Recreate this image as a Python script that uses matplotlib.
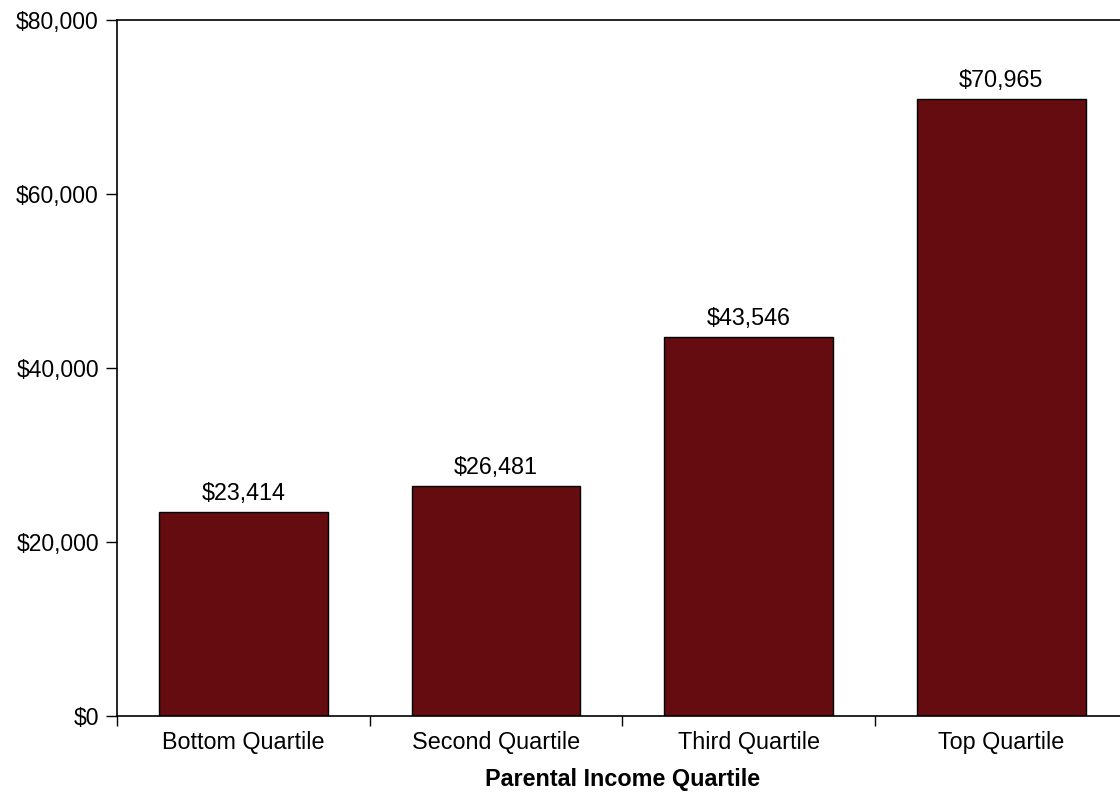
import matplotlib
matplotlib.use("Agg")
import matplotlib.pyplot as plt
from matplotlib.ticker import FuncFormatter, FixedLocator

plt.rcParams['font.family'] = ['Liberation Sans', 'DejaVu Sans']

categories = ["Bottom Quartile", "Second Quartile", "Third Quartile", "Top Quartile"]
values = [23414, 26481, 43546, 70965]
y_ticks = [0, 20000, 40000, 60000, 80000]
x_label = "Parental Income Quartile"
bar_color = "#640C10"

fig = plt.figure(figsize=(11.2, 7.93), dpi=100)
ax = fig.add_axes([117/1120, (793-716)/793, 1010.5/1120, 696/793])

x = list(range(len(categories)))
bars = ax.bar(x, values, width=0.668, color=bar_color, edgecolor="black", linewidth=1.0)
for xi, v in zip(x, values):
    ax.annotate(f"${v:,}", (xi, v), xytext=(0, 5), textcoords="offset points",
                ha="center", va="bottom", fontsize=16.8)

ax.set_xlim(-0.5, len(categories) - 0.5)
ax.set_ylim(0, 80000)
ax.set_yticks(y_ticks)
ax.yaxis.set_major_formatter(FuncFormatter(lambda v, p: f"${int(v):,}"))
ax.set_xticks(x)
ax.set_xticklabels(categories)
ax.xaxis.set_minor_locator(FixedLocator([i - 0.5 for i in range(len(categories) + 1)]))
ax.tick_params(axis="x", which="major", length=0, labelsize=16.8, pad=11)
ax.tick_params(axis="x", which="minor", length=7, width=1, direction="out")
ax.tick_params(axis="y", which="major", length=8, width=1, direction="out", labelsize=16.5, pad=5)
for s in ax.spines.values():
    s.set_linewidth(1.2)
    s.set_color("black")
ax.set_xlabel(x_label, fontsize=16.8, fontweight="bold", labelpad=10)

fig.savefig("out.png", dpi=100)
